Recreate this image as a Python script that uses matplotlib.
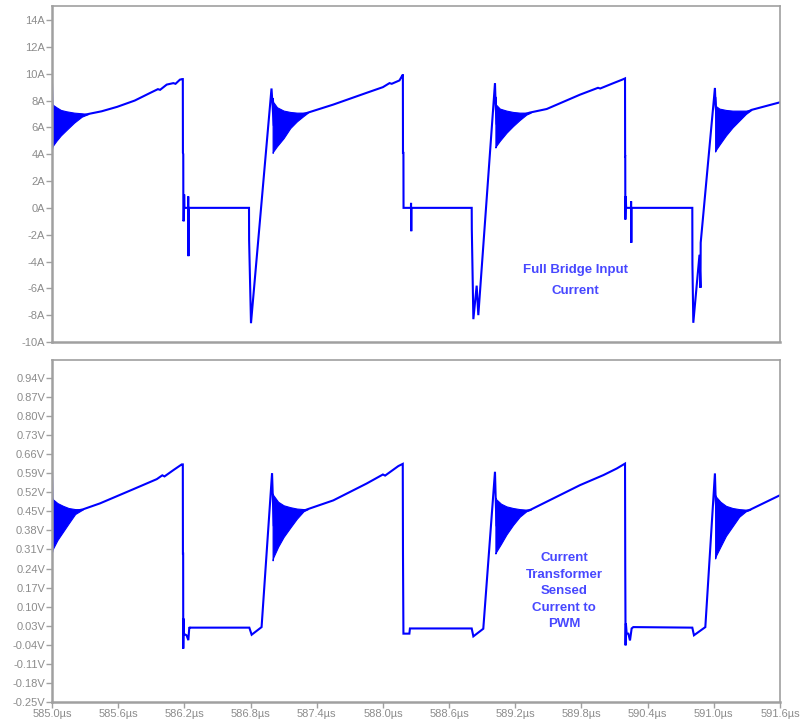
import matplotlib
matplotlib.use("Agg")
import matplotlib.pyplot as plt

# full bridge input current, main trace (time in us, current in A)
t_top = [585.000, 585.004, 585.010, 585.05, 585.15, 585.33, 585.45, 585.59, 585.75,
         585.89, 585.96, 585.98, 586.04, 586.10, 586.12, 586.16, 586.180, 586.186,
         586.187, 586.190, 586.191, 586.196,
         586.198, 586.200, 586.234, 586.235, 586.237, 586.239, 586.786, 586.787,
         586.804, 586.990, 587.000, 587.010, 587.10, 587.20, 587.32, 587.55, 587.85,
         588.00, 588.06, 588.08, 588.15, 588.178, 588.181, 588.182, 588.186, 588.187,
         588.254, 588.255,
         588.257, 588.259, 588.805, 588.806, 588.820, 588.850, 588.865, 589.016,
         589.022, 589.030, 589.15, 589.33, 589.485, 589.787, 589.95, 589.97, 590.09,
         590.17, 590.195,
         590.196, 590.197, 590.198, 590.202, 590.205, 590.249, 590.250, 590.252,
         590.254, 590.805, 590.806, 590.814, 590.870, 590.879, 590.881, 591.010,
         591.016, 591.030, 591.17, 591.34, 591.60]
i_top = [9.2, 7.6, 6.2, 6.4, 6.6, 7.0, 7.2, 7.53, 8.0,
         8.57, 8.85, 8.8, 9.19, 9.3, 9.25, 9.56, 9.6, 9.6,
         4.1, 4.0, -1.0, -0.9,
         1.0, 0.0, 0.0, 0.85, -3.6, 0.0, 0.0, -2.4,
         -8.6, 8.9, 7.6, 6.2, 6.3, 6.8, 7.1, 7.7, 8.57,
         9.0, 9.3, 9.25, 9.5, 9.9, 9.9, 4.1, 4.1, 0.0,
         0.0, 0.37,
         -1.74, 0.0, 0.0, -1.6, -8.3, -5.8, -8.0, 9.3,
         7.7, 6.3, 6.6, 7.1, 7.37, 8.44, 8.95, 8.9, 9.3,
         9.56, 9.65,
         3.85, 3.85, -0.87, 0.86, 0.0, 0.0, 0.49, -2.6,
         0.0, 0.0, -4.2, -8.57, -3.5, -5.96, -2.6, 8.94,
         7.6, 6.3, 6.6, 7.3, 7.87]

# ringing envelopes after each turn-on (upper / lower)
ring_top_t = [
    [585.000, 585.005, 585.04, 585.08, 585.13, 585.20, 585.27, 585.33],
    [587.000, 587.005, 587.04, 587.10, 587.16, 587.22, 587.28, 587.32],
    [589.020, 589.025, 589.06, 589.12, 589.18, 589.24, 589.30, 589.34],
    [591.012, 591.017, 591.05, 591.11, 591.17, 591.23, 591.29, 591.34],
]
ring_top_hi = [
    [7.8, 7.7, 7.5, 7.3, 7.2, 7.1, 7.05, 7.0],
    [8.2, 7.9, 7.5, 7.25, 7.15, 7.1, 7.1, 7.1],
    [8.3, 7.7, 7.4, 7.25, 7.15, 7.1, 7.1, 7.1],
    [8.3, 7.6, 7.4, 7.3, 7.25, 7.25, 7.25, 7.3],
]
ring_top_lo = [
    [4.4, 4.6, 5.0, 5.4, 5.8, 6.35, 6.8, 7.0],
    [4.1, 4.2, 4.6, 5.2, 5.95, 6.45, 6.85, 7.1],
    [4.5, 4.6, 5.0, 5.6, 6.1, 6.55, 6.95, 7.1],
    [4.2, 4.3, 4.7, 5.4, 6.0, 6.5, 7.0, 7.3],
]

# current transformer sense voltage (time in us, volts)
t_bot = [585.000, 585.004, 585.010, 585.10, 585.20, 585.28, 585.435, 585.737, 585.95,
         586.00, 586.02, 586.10, 586.176, 586.186, 586.187, 586.189, 586.190, 586.193,
         586.196,
         586.220, 586.236, 586.245, 586.250, 586.789, 586.810, 586.900, 586.995,
         587.002, 587.010, 587.10, 587.20, 587.32, 587.55, 587.853, 588.00, 588.02,
         588.14, 588.18,
         588.182, 588.186, 588.240, 588.245, 588.805, 588.820, 588.910, 589.016,
         589.023, 589.030, 589.15, 589.25, 589.34, 589.787, 590.00, 590.12, 590.195,
         590.197, 590.200, 590.203, 590.210, 590.225, 590.240, 590.255, 590.270,
         590.805, 590.820, 590.923, 591.010, 591.017, 591.030, 591.15, 591.25,
         591.33, 591.60]
v_bot = [0.595, 0.49, 0.40, 0.42, 0.45, 0.457, 0.479, 0.531, 0.568,
         0.582, 0.578, 0.601, 0.622, 0.622, 0.295, 0.295, -0.054, 0.056,
         0.0,
         -0.005, -0.023, 0.025, 0.023, 0.023, -0.003, 0.025, 0.59,
         0.50, 0.40, 0.41, 0.44, 0.458, 0.49, 0.552, 0.585, 0.581,
         0.616, 0.624,
         0.295, 0.001, 0.001, 0.02, 0.02, -0.009, 0.019, 0.595,
         0.49, 0.40, 0.42, 0.445, 0.456, 0.546, 0.583, 0.607, 0.625,
         0.246, -0.042, 0.038, 0.001, 0.001, -0.024, 0.02, 0.025,
         0.023, -0.005, 0.025, 0.589, 0.49, 0.40, 0.42, 0.445,
         0.456, 0.509]

ring_bot_t = [
    [585.000, 585.005, 585.05, 585.10, 585.15, 585.21, 585.28],
    [587.000, 587.005, 587.05, 587.10, 587.16, 587.22, 587.28, 587.32],
    [589.020, 589.025, 589.07, 589.12, 589.18, 589.24, 589.30, 589.34],
    [591.012, 591.017, 591.06, 591.11, 591.17, 591.23, 591.29, 591.33],
]
ring_bot_hi = [
    [0.50, 0.495, 0.48, 0.47, 0.462, 0.458, 0.457],
    [0.515, 0.51, 0.485, 0.472, 0.465, 0.46, 0.458, 0.458],
    [0.50, 0.495, 0.478, 0.468, 0.462, 0.458, 0.456, 0.456],
    [0.51, 0.505, 0.485, 0.47, 0.462, 0.458, 0.456, 0.456],
]
ring_bot_lo = [
    [0.30, 0.31, 0.345, 0.375, 0.405, 0.44, 0.457],
    [0.27, 0.28, 0.32, 0.356, 0.39, 0.423, 0.45, 0.458],
    [0.295, 0.30, 0.33, 0.365, 0.40, 0.43, 0.45, 0.456],
    [0.277, 0.285, 0.32, 0.36, 0.395, 0.43, 0.45, 0.456],
]

x_ticks = [585.0, 585.6, 586.2, 586.8, 587.4, 588.0, 588.6, 589.2, 589.8, 590.4, 591.0, 591.6]
top_ticks = [-10, -8, -6, -4, -2, 0, 2, 4, 6, 8, 10, 12, 14]
bot_ticks = [-0.25, -0.18, -0.11, -0.04, 0.03, 0.10, 0.17, 0.24, 0.31, 0.38,
             0.45, 0.52, 0.59, 0.66, 0.73, 0.80, 0.87, 0.94]

TRACE = '#0000ff'
NOTE = '#4848ff'
GREY = '#a0a0a0'
TICKTXT = '#8c8c8c'

plt.rcParams['font.family'] = ['Liberation Sans', 'DejaVu Sans']

fig = plt.figure(figsize=(8, 7.23), dpi=100)
ax1 = fig.add_axes([0.065, 0.527, 0.91, 0.4647])
ax2 = fig.add_axes([0.065, 0.029, 0.91, 0.473])


def style(ax):
    for s in ax.spines.values():
        s.set_color(GREY)
        s.set_linewidth(1.2)
    ax.spines['left'].set_linewidth(1.8)
    ax.spines['bottom'].set_linewidth(1.8)
    ax.tick_params(colors=GREY, labelcolor=TICKTXT, labelsize=8,
                   length=4, width=1.0, direction='out', pad=1)
    ax.set_xlim(585.0, 591.6)


style(ax1)
style(ax2)

# top: input current
ax1.plot(t_top, i_top, color=TRACE, lw=1.5, solid_joinstyle='miter')
for t, hi, lo in zip(ring_top_t, ring_top_hi, ring_top_lo):
    ax1.fill_between(t, lo, hi, color=TRACE, lw=0.8)
ax1.set_ylim(-10, 15.05)
ax1.set_yticks(top_ticks)
ax1.set_yticklabels([f'{v}A' for v in top_ticks])
ax1.set_xticks(x_ticks)
ax1.tick_params(axis='x', bottom=False, labelbottom=False)
ax1.text(589.742, -5.43, 'Full Bridge Input\nCurrent', color=NOTE,
         fontsize=9.5, fontweight='bold', ha='center', va='center',
         linespacing=1.95)

# bottom: sensed voltage
ax2.plot(t_bot, v_bot, color=TRACE, lw=1.5, solid_joinstyle='miter')
for t, hi, lo in zip(ring_bot_t, ring_bot_hi, ring_bot_lo):
    ax2.fill_between(t, lo, hi, color=TRACE, lw=0.8)
ax2.set_ylim(-0.25, 1.005)
ax2.set_yticks(bot_ticks)
ax2.set_yticklabels([f'{v:.2f}V' for v in bot_ticks])
ax2.set_xticks(x_ticks)
ax2.set_xticklabels([f'{v:.1f}\u00b5s' for v in x_ticks])
ax2.text(589.642, 0.1565, 'Current\nTransformer\nSensed\nCurrent to\nPWM',
         color=NOTE, fontsize=9.5, fontweight='bold', ha='center',
         va='center', linespacing=1.5)

fig.savefig('out.png', dpi=100)
